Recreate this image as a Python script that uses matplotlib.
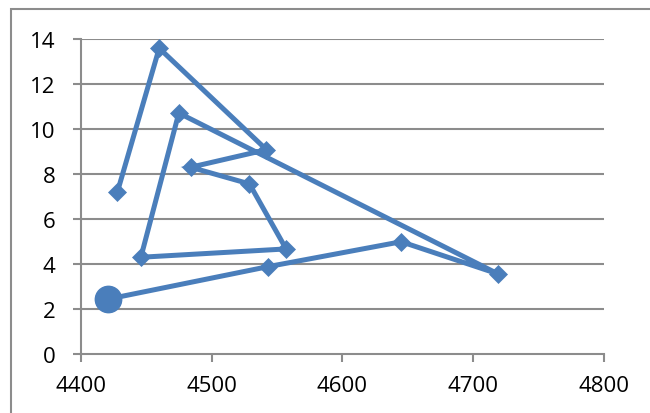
import matplotlib
matplotlib.use("Agg")
import matplotlib.pyplot as plt
from matplotlib.patches import Rectangle

x_vals = [4428, 4460, 4542, 4484, 4529, 4557, 4446, 4475, 4719, 4645, 4543, 4421]
y_vals = [7.19, 13.59, 9.08, 8.30, 7.56, 4.67, 4.30, 10.71, 3.56, 4.99, 3.88, 2.44]
x_ticks = [4400, 4500, 4600, 4700, 4800]
y_ticks = [0, 2, 4, 6, 8, 10, 12, 14]

plt.rcParams['font.family'] = ['Open Sans', 'DejaVu Sans']

fig = plt.figure(figsize=(6.5, 4.14), dpi=100)
ax = fig.add_axes([80.7/650, 1-355/414, (604-80.7)/650, (355-40)/414])

color = '#4A7EBB'
grid_c = '#8C8C8C'

ax.plot(x_vals, y_vals, color=color, lw=3.6, marker='D', ms=9.5,
        mec=color, mfc=color, mew=0.5, zorder=3, solid_joinstyle='miter')
ax.plot(x_vals[-1:], y_vals[-1:], color=color, marker='o', ms=19,
        mec=color, mfc=color, ls='none', zorder=4)

ax.set_xlim(4400, 4800)
ax.set_ylim(0, 14)
ax.set_xticks(x_ticks)
ax.set_yticks(y_ticks)
ax.set_xticklabels([str(v) for v in x_ticks])
ax.set_yticklabels([str(v) for v in y_ticks])

for y in y_ticks[1:]:
    ax.axhline(y, color=grid_c, lw=1.5, zorder=1)

for s in ['top', 'right']:
    ax.spines[s].set_visible(False)
for s in ['left', 'bottom']:
    ax.spines[s].set_color(grid_c)
    ax.spines[s].set_linewidth(1.5)

ax.tick_params(axis='both', colors=grid_c, labelcolor='black', length=6,
               width=1.5, labelsize=16)
ax.tick_params(axis='y', pad=12)
ax.tick_params(axis='x', pad=9)

fig.patches.append(Rectangle((11/650, -0.1), 1.2, 1 - 10/414 + 0.1,
                             transform=fig.transFigure, fill=False,
                             edgecolor=grid_c, lw=1.5))

fig.savefig('out.png', dpi=100)
